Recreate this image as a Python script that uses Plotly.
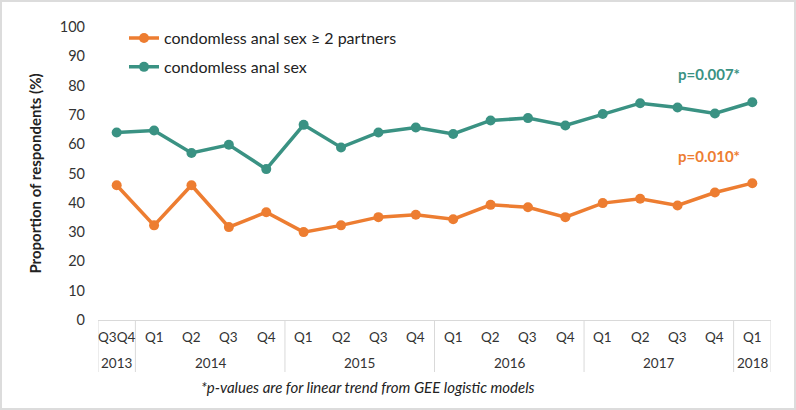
import plotly.graph_objects as go

quarters = ["Q3Q4", "Q1", "Q2", "Q3", "Q4", "Q1", "Q2", "Q3", "Q4",
            "Q1", "Q2", "Q3", "Q4", "Q1", "Q2", "Q3", "Q4", "Q1"]
years = ["2013", "2014", "2014", "2014", "2014", "2015", "2015", "2015", "2015",
         "2016", "2016", "2016", "2016", "2017", "2017", "2017", "2017", "2018"]
cas = [64.0, 64.7, 57.0, 59.8, 51.5, 66.6, 58.9, 64.0, 65.7,
       63.5, 68.1, 68.9, 66.4, 70.3, 74.0, 72.5, 70.5, 74.3]
cas2 = [46.0, 32.3, 46.0, 31.7, 36.8, 30.0, 32.3, 35.1, 35.9,
        34.4, 39.3, 38.5, 35.1, 39.9, 41.4, 39.1, 43.5, 46.7]
y_ticks = list(range(0, 101, 10))
p_labels = {"cas": "p=0.007*", "cas2": "p=0.010*"}

ORANGE = "#ED7D31"
GREEN = "#3A9283"
GRID = "#d9d9d9"
FONT = "Lato"

W, H = 796, 410
L, R, T, B = 98, 25, 27, 90
pw, ph = W - L - R, H - T - B

x = list(range(len(quarters)))

fig = go.Figure()
fig.add_trace(go.Scatter(x=x, y=cas2, mode="lines+markers", name="condomless anal sex \u2265 2 partners",
                         line=dict(color=ORANGE, width=3.5), marker=dict(size=10, color=ORANGE),
                         legendgroup="a"))
fig.add_trace(go.Scatter(x=x, y=cas, mode="lines+markers", name="condomless anal sex",
                         line=dict(color=GREEN, width=3.5), marker=dict(size=10, color=GREEN),
                         legendgroup="b"))

annotations = []
shapes = []
# quarter labels
for i, q in enumerate(quarters):
    annotations.append(dict(x=i, y=0, xref="x", yref="paper", text=q, showarrow=False,
                            yanchor="middle", yshift=-17, font=dict(size=13.5, color="#333333", family=FONT)))
# year groups
groups = []
for i, yv in enumerate(years):
    if groups and groups[-1][0] == yv:
        groups[-1][2] = i
    else:
        groups.append([yv, i, i])
div_y = -(372 - 320) / ph
for yv, a, b in groups:
    annotations.append(dict(x=(a + b) / 2, y=0, xref="x", yref="paper", text=yv, showarrow=False,
                            yanchor="middle", yshift=-43, font=dict(size=13.5, color="#333333", family=FONT)))
    shapes.append(dict(type="line", xref="x", yref="paper", x0=a - 0.5, x1=a - 0.5, y0=0, y1=div_y,
                       line=dict(color=GRID, width=1)))
shapes.append(dict(type="line", xref="x", yref="paper", x0=len(x) - 0.5, x1=len(x) - 0.5, y0=0, y1=div_y,
                   line=dict(color=GRID, width=1)))

# p-value annotations
annotations.append(dict(x=15.85, y=84.0, xref="x", yref="y", text="<b>" + p_labels["cas"] + "</b>",
                        showarrow=False, font=dict(size=15, color=GREEN, family=FONT)))
annotations.append(dict(x=15.85, y=56.0, xref="x", yref="y", text="<b>" + p_labels["cas2"] + "</b>",
                        showarrow=False, font=dict(size=15, color=ORANGE, family=FONT)))
# footnote
annotations.append(dict(x=(368 - L) / pw, y=-(387 - T - ph) / ph, xref="paper", yref="paper",
                        text="<i>*p-values are for linear trend from GEE logistic models</i>",
                        showarrow=False, yanchor="middle", font=dict(size=15, color="#222222", family=FONT)))

# outer border
shapes.append(dict(type="rect", xref="paper", yref="paper",
                   x0=-(L - 1) / pw, x1=1 + (R - 1) / pw, y0=-(B - 1) / ph, y1=1 + (T - 1) / ph,
                   line=dict(color="#dcdcdc", width=2), layer="below"))

fig.update_layout(
    width=W, height=H, margin=dict(l=L, r=R, t=T, b=B),
    paper_bgcolor="white", plot_bgcolor="white",
    font=dict(family=FONT, color="#333333"),
    showlegend=True,
    legend=dict(x=(124 - L) / pw, y=1.02, xanchor="left", yanchor="top",
                bgcolor="rgba(0,0,0,0)", font=dict(size=16, color="#222222", family=FONT),
                traceorder="grouped", tracegroupgap=5),
    annotations=annotations, shapes=shapes,
    xaxis=dict(range=[-0.5, len(x) - 0.5], showgrid=False, zeroline=False, showline=True,
               linecolor=GRID, linewidth=1, showticklabels=False, ticks="", fixedrange=True),
    yaxis=dict(range=[0, 100], tickvals=y_ticks, showgrid=False, zeroline=False, showline=False,
               ticks="", ticklabelstandoff=12, tickfont=dict(size=14.5, color="#333333", family=FONT),
               title=dict(text="<b>Proportion of respondents (%)</b>", font=dict(size=15, color="#222222", family=FONT),
                          standoff=14)),
)

fig.write_html("out.html")
